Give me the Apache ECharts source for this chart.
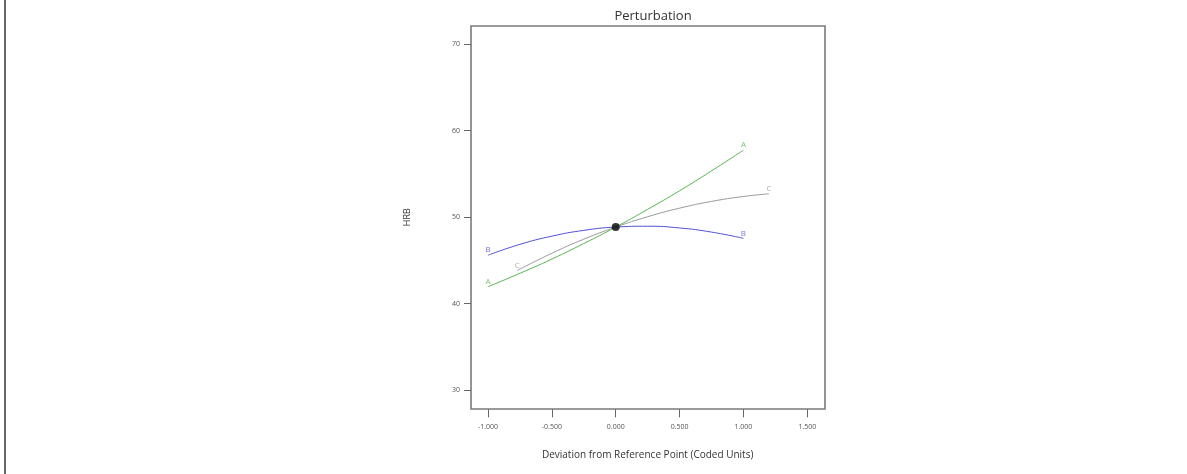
<!DOCTYPE html>
<html>
<head>
<meta charset="utf-8">
<script src="https://cdn.jsdelivr.net/npm/echarts@6/dist/echarts.min.js"></script>
<style>html,body{margin:0;padding:0;background:#fff;}#c{width:1187px;height:474px;}</style>
</head>
<body>
<div id="c"></div>
<script>
// ---- data ----
var xA = [-1, -0.75, -0.5, -0.25, 0, 0.25, 0.5, 0.75, 1];
var yA = [41.95, 43.5, 45.15, 46.95, 48.85, 50.9, 53.05, 55.35, 57.75];
var xB = [-1, -0.75, -0.5, -0.25, 0, 0.25, 0.5, 0.75, 1];
var yB = [45.6, 46.85, 47.8, 48.47, 48.85, 48.95, 48.75, 48.27, 47.55];
var xC = [-0.77, -0.5, -0.25, 0, 0.25, 0.5, 0.75, 1, 1.2];
var yC = [43.84, 45.82, 47.45, 48.85, 50.05, 51.04, 51.82, 52.39, 52.7];
var refPoint = [0, 48.85];
var seriesNames = ['A', 'B', 'C'];
var seriesColors = ['#55b850', '#5050d8', '#9a9a9a'];
var xTicks = [-1, -0.5, 0, 0.5, 1, 1.5];
var yTicks = [30, 40, 50, 60, 70];
var titleText = 'Perturbation';
var xName = 'Deviation from Reference Point (Coded Units)';
var yName = 'HRB';

var chart = echarts.init(document.getElementById('c'), null, {renderer: 'canvas'});
var FONT = 'Open Sans';
function pairs(xs, ys) { return xs.map(function (x, i) { return [x, ys[i]]; }); }
var xsAll = [xA, xB, xC], ysAll = [yA, yB, yC];

var series = [];
seriesNames.forEach(function (n, i) {
  var d = pairs(xsAll[i], ysAll[i]);
  series.push({
    type: 'line', name: n, xAxisIndex: 1, yAxisIndex: 1,
    data: d, smooth: true, symbol: 'none', clip: false,
    lineStyle: {color: seriesColors[i], width: 1}, z: 3
  });
  series.push({
    type: 'scatter', xAxisIndex: 1, yAxisIndex: 1, symbolSize: 0,
    data: [d[0], d[d.length - 1]], silent: true,
    label: {show: true, position: 'top', distance: 1, formatter: n,
      color: seriesColors[i], fontSize: 8, fontFamily: FONT}
  });
});
series.push({
  type: 'scatter', xAxisIndex: 1, yAxisIndex: 1, symbol: 'circle', symbolSize: 8,
  data: [refPoint], itemStyle: {color: '#000'}, z: 5
});

chart.setOption({
  backgroundColor: '#fff',
  animation: false,
  title: {text: titleText, left: 648, top: 5, textAlign: 'center',
    textStyle: {fontSize: 13, fontWeight: 'normal', color: '#333', fontFamily: FONT}},
  graphic: [{type: 'line', shape: {x1: 5, y1: 0, x2: 5, y2: 474}, style: {stroke: '#000', lineWidth: 1.2}}],
  grid: [
    {left: 471, right: 362, top: 26, bottom: 65, show: true, borderColor: '#7a7a7a', borderWidth: 1.6, backgroundColor: 'transparent'},
    {left: 488, right: 379.7, top: 44.3, bottom: 84}
  ],
  xAxis: [
    {gridIndex: 0, type: 'value', show: false, min: 0, max: 1},
    {gridIndex: 1, type: 'value', min: xTicks[0], max: xTicks[xTicks.length - 1], interval: 0.5,
      offset: 19.3, position: 'bottom',
      axisLine: {show: false, onZero: false}, splitLine: {show: false},
      axisTick: {show: true, length: 8, lineStyle: {color: '#666', width: 1}},
      axisLabel: {margin: 14, fontSize: 7, color: '#555', fontFamily: FONT,
        formatter: function (v) { return v.toFixed(3); }},
      name: xName, nameLocation: 'middle', nameGap: 41,
      nameTextStyle: {fontSize: 10, color: '#333', fontFamily: FONT}}
  ],
  yAxis: [
    {gridIndex: 0, type: 'value', show: false, min: 0, max: 1},
    {gridIndex: 1, type: 'value', min: yTicks[0], max: yTicks[yTicks.length - 1], interval: 10,
      offset: 17, position: 'left',
      axisLine: {show: false, onZero: false}, splitLine: {show: false},
      axisTick: {show: true, length: 7, lineStyle: {color: '#666', width: 1}},
      axisLabel: {margin: 11, fontSize: 7, color: '#555', fontFamily: FONT},
      name: yName, nameLocation: 'middle', nameGap: 59, nameRotate: 90,
      nameTextStyle: {fontSize: 9, color: '#333', fontFamily: FONT}}
  ],
  series: series
});
</script>
</body>
</html>
